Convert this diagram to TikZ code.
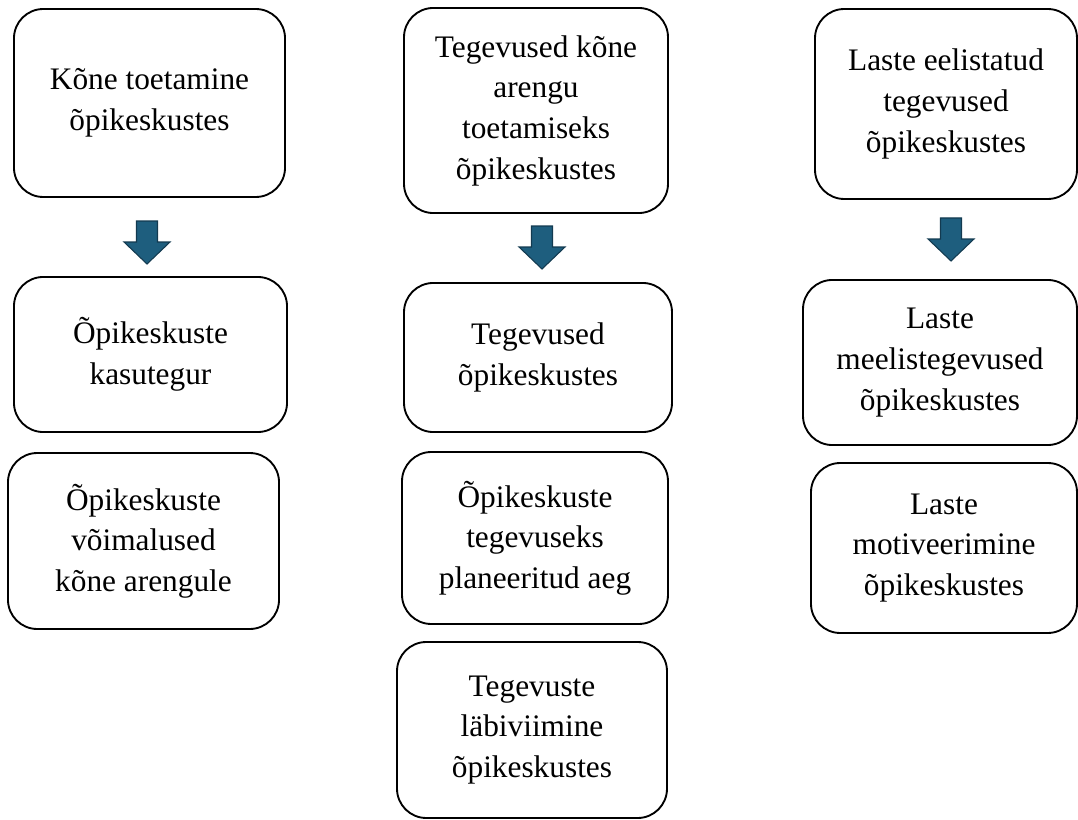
\documentclass[tikz,border=0pt]{standalone}
\usepackage{fontspec}
\setmainfont{Liberation Serif}
\definecolor{arrowfill}{RGB}{30,94,126}
\definecolor{arrowline}{RGB}{19,58,80}
\newcommand{\drawbox}{\node[draw,rectangle,rounded corners=22pt,line width=1.4pt,align=center,font=\fontsize{23.5}{30.5}\selectfont]}
\newcommand{\drawdown}[1]{\draw[draw=arrowline,fill=arrowfill,line width=0.8pt,line join=miter]
  (#1) ++(-10.5,0) -- ++(21,0) -- ++(0,21) -- ++(12.5,0) -- ++(-23,22) -- ++(-23,-22) -- ++(12.5,0) -- cycle;}

\begin{document}
\begin{tikzpicture}[x=0.75pt,y=-0.75pt]
\useasboundingbox (0,0) rectangle (1078,820);
%speech support column
\drawbox[minimum width=203.3pt,minimum height=141pt] (kone) at (149.5,103) {Kõne toetamine\\õpikeskustes};
\coordinate (arrKone) at (147,221);
\drawdown{arrKone}
\drawbox[minimum width=204.8pt,minimum height=116.3pt] (kasu) at (150.5,354.5) {Õpikeskuste\\kasutegur};
\drawbox[minimum width=203.3pt,minimum height=132pt] (voim) at (143.5,541) {Õpikeskuste\\võimalused\\kõne arengule};

%activities column
\drawbox[minimum width=198pt,minimum height=153.8pt] (tege) at (536,110.5) {Tegevused kõne\\arengu\\toetamiseks\\õpikeskustes};
\coordinate (arrTege) at (542,226);
\drawdown{arrTege}
\drawbox[minimum width=201pt,minimum height=111.8pt] (tegOpi) at (538,357.5) {Tegevused\\õpikeskustes};
\drawbox[minimum width=199.5pt,minimum height=129pt] (aeg) at (535,538) {Õpikeskuste\\tegevuseks\\planeeritud aeg};
\drawbox[minimum width=202.5pt,minimum height=132pt] (labi) at (532,730) {Tegevuste\\läbiviimine\\õpikeskustes};

%children column
\drawbox[minimum width=196.5pt,minimum height=142.5pt] (laste) at (946,104) {Laste eelistatud\\tegevused\\õpikeskustes};
\coordinate (arrLaste) at (951,218);
\drawdown{arrLaste}
\drawbox[minimum width=205.5pt,minimum height=123.8pt] (meeli) at (940,362.5) {Laste\\meelistegevused\\õpikeskustes};
\drawbox[minimum width=199.5pt,minimum height=127.5pt] (motiv) at (944,548) {Laste\\motiveerimine\\õpikeskustes};
\end{tikzpicture}
\end{document}
